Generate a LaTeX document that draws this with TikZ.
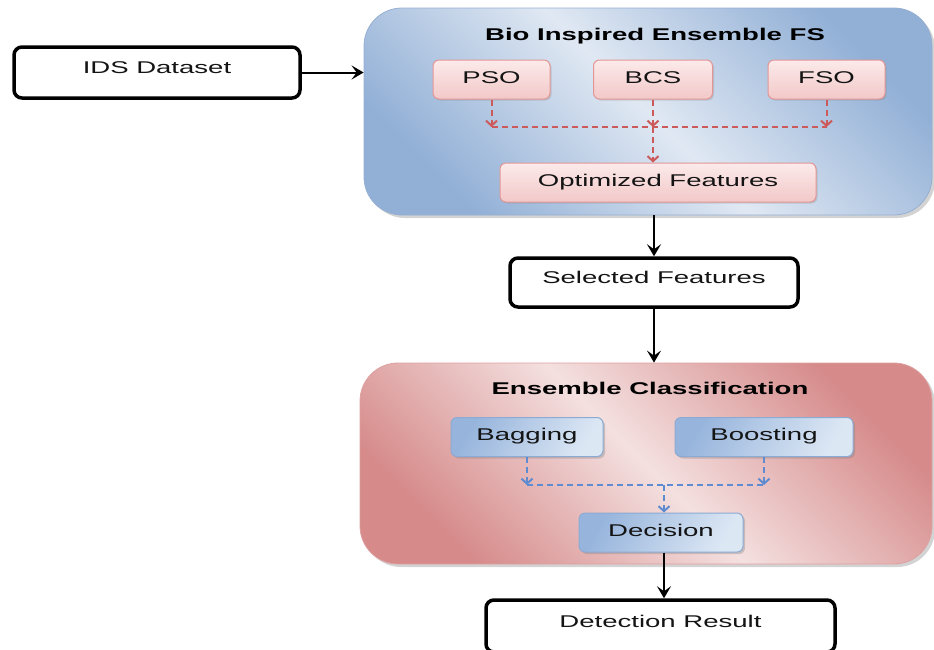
\documentclass[tikz,border=0pt]{standalone}
\usepackage{fontspec}
\setmainfont{Liberation Sans}[FakeStretch=1.62]
\usetikzlibrary{arrows.meta,shadows}

\definecolor{fsdark}{RGB}{146,176,214}
\definecolor{fslight}{RGB}{224,232,243}
\definecolor{fsline}{RGB}{150,175,210}
\definecolor{clsdark}{RGB}{214,138,138}
\definecolor{clslight}{RGB}{244,224,224}
\definecolor{clsline}{RGB}{222,160,160}
\definecolor{algotop}{RGB}{252,234,234}
\definecolor{algobot}{RGB}{242,200,200}
\definecolor{algoline}{RGB}{226,150,150}
\definecolor{learndark}{RGB}{150,180,220}
\definecolor{learnlight}{RGB}{220,231,244}
\definecolor{learnline}{RGB}{140,170,210}
\definecolor{redflow}{RGB}{205,90,90}
\definecolor{blueflow}{RGB}{95,140,208}
\definecolor{txtgray}{RGB}{20,20,20}

\begin{document}
\begin{tikzpicture}[x=1pt, y=-1pt,
    >={Stealth[length=12pt,width=14pt,inset=5pt]},
    every node/.style={font=\fontsize{17}{20}\selectfont, text=txtgray},
    iobox/.style={rectangle, draw=black, line width=3.5pt, rounded corners=8pt, fill=white, text height=14pt, text depth=12pt},
    stagebox/.style={rectangle, rounded corners=38pt, line width=0.8pt, drop shadow={shadow xshift=3pt, shadow yshift=-3pt, opacity=0.35}},
    fsstage/.style={stagebox, draw=fsline, left color=fsdark, right color=fsdark, middle color=fslight, shading angle=-45},
    clsstage/.style={stagebox, draw=clsline, left color=clsdark, right color=clsdark, middle color=clslight, shading angle=-45},
    stagetitle/.style={font=\bfseries\fontsize{17}{20}\selectfont, text=black},
    algo/.style={rectangle, draw=algoline, line width=1pt, rounded corners=6pt, top color=algotop, bottom color=algobot, minimum height=39pt, text height=13pt, text depth=6pt, drop shadow={shadow xshift=1.5pt, shadow yshift=-1.5pt, opacity=0.25}},
    learner/.style={rectangle, draw=learnline, line width=1pt, rounded corners=6pt, left color=learndark, right color=learnlight, shading angle=60, minimum height=39pt, text height=13pt, text depth=6pt, drop shadow={shadow xshift=2pt, shadow yshift=-2pt, opacity=0.35}},
    redflow/.style={draw=redflow, line width=2pt, dash pattern=on 6pt off 4pt},
    blueflow/.style={draw=blueflow, line width=2pt, dash pattern=on 6pt off 4pt},
    dashtip/.style={-{Straight Barb[length=5pt,width=11pt]}},
    flow/.style={draw=black, line width=2pt, ->}
]
\clip (0,0) rectangle (934,649);

% Stages
\node[fsstage, minimum width=568pt, minimum height=207pt] (fsbox) at (648,111.5) {};
\node[clsstage, minimum width=572pt, minimum height=201pt] (clsbox) at (646,463.5) {};
\node[stagetitle] (fstitle) at (655,36) {Bio Inspired Ensemble FS};
\node[stagetitle] (clstitle) at (650,388) {Ensemble Classification};

% Data
\node[iobox, minimum width=286pt, minimum height=51pt] (ids) at (157,72.5) {IDS Dataset};
\node[iobox, minimum width=288pt, minimum height=49pt] (selected) at (654,282.5) {Selected Features};
\node[iobox, minimum width=349pt, minimum height=52pt] (detection) at (660.5,626) {Detection Result};

% Feature selection
\node[algo, minimum width=117pt] (pso) at (491.5,79.5) {PSO};
\node[algo, minimum width=119pt] (bcs) at (653,79.5) {BCS};
\node[algo, minimum width=117pt] (fso) at (826.5,79.5) {FSO};
\node[algo, minimum width=316pt] (opt) at (658,182.5) {Optimized Features};
\coordinate (fsjoin) at (653,127);

% Classification
\node[learner, minimum width=152pt] (bagging) at (527,437) {Bagging};
\node[learner, minimum width=178pt] (boosting) at (764,437) {Boosting};
\node[learner, minimum width=164pt] (decision) at (661,532.5) {Decision};
\coordinate (clsjoin) at (664,485);

% Connections
\draw[flow] (ids.east) -- (fsbox.west |- ids.east);
\draw[flow] (selected.north |- fsbox.south) -- (selected.north);
\draw[flow] (selected.south) -- (selected.south |- clsbox.north);
\draw[flow] (decision.south -| clsjoin) -- (clsjoin |- detection.north);

\draw[redflow] (pso.south |- fsjoin) -- (fso.south |- fsjoin);
\draw[redflow, dashtip] (pso.south) -- (pso.south |- fsjoin);
\draw[redflow, dashtip] (bcs.south) -- (bcs.south |- fsjoin);
\draw[redflow, dashtip] (fso.south) -- (fso.south |- fsjoin);
\draw[redflow, dashtip] (fsjoin) -- (fsjoin |- opt.north);

\draw[blueflow] (bagging.south |- clsjoin) -- (boosting.south |- clsjoin);
\draw[blueflow, dashtip] (bagging.south) -- (bagging.south |- clsjoin);
\draw[blueflow, dashtip] (boosting.south) -- (boosting.south |- clsjoin);
\draw[blueflow, dashtip] (clsjoin) -- (clsjoin |- decision.north);

\end{tikzpicture}
\end{document}
